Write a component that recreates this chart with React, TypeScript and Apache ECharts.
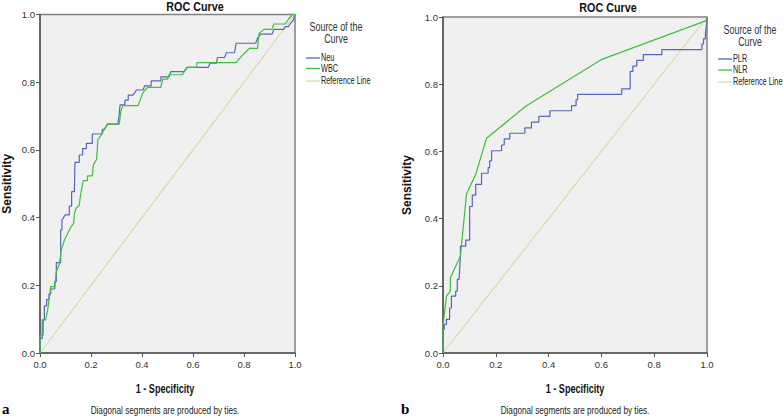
import React, { useEffect, useRef } from "react";
import * as echarts from "echarts";

// Panel a: Neu (blue) and WBC (green) ROC curves, [1 - specificity, sensitivity]
const neuPoints: number[][] = [
  [0, 0], [0, 0.043], [0.009, 0.043], [0.009, 0.098], [0.017, 0.098], [0.017, 0.139],
  [0.026, 0.139], [0.026, 0.158], [0.035, 0.158], [0.035, 0.174], [0.042, 0.174], [0.042, 0.189],
  [0.058, 0.189], [0.058, 0.211], [0.064, 0.211], [0.064, 0.267], [0.081, 0.267], [0.081, 0.364],
  [0.086, 0.364], [0.086, 0.393], [0.099, 0.408], [0.115, 0.408], [0.115, 0.434], [0.124, 0.434],
  [0.124, 0.477], [0.135, 0.477], [0.135, 0.484], [0.137, 0.484], [0.137, 0.563], [0.154, 0.563],
  [0.154, 0.585], [0.167, 0.585], [0.167, 0.604], [0.182, 0.604], [0.182, 0.619], [0.205, 0.619],
  [0.205, 0.647], [0.244, 0.647], [0.244, 0.661], [0.253, 0.661], [0.263, 0.676], [0.305, 0.676],
  [0.31, 0.7], [0.314, 0.733], [0.333, 0.733], [0.333, 0.747], [0.346, 0.747], [0.346, 0.762],
  [0.365, 0.762], [0.378, 0.777], [0.404, 0.777], [0.41, 0.789], [0.436, 0.789], [0.436, 0.804],
  [0.474, 0.804], [0.474, 0.816], [0.506, 0.816], [0.513, 0.831], [0.564, 0.831], [0.577, 0.844],
  [0.66, 0.844], [0.667, 0.856], [0.692, 0.856], [0.696, 0.873], [0.724, 0.873], [0.731, 0.887],
  [0.763, 0.887], [0.769, 0.915], [0.846, 0.915], [0.853, 0.93], [0.865, 0.942], [0.91, 0.942],
  [0.917, 0.956], [0.955, 0.956], [0.962, 0.964], [0.974, 0.964], [0.981, 0.972], [0.994, 0.984],
  [1, 1],
];

const wbcPoints: number[][] = [
  [0, 0], [0, 0.053], [0.013, 0.053], [0.013, 0.098], [0.022, 0.098], [0.03, 0.127],
  [0.038, 0.171], [0.042, 0.196], [0.058, 0.196], [0.064, 0.24], [0.077, 0.265], [0.083, 0.304],
  [0.096, 0.334], [0.109, 0.354], [0.122, 0.373], [0.132, 0.383], [0.135, 0.412], [0.141, 0.427],
  [0.154, 0.437], [0.16, 0.472], [0.17, 0.509], [0.186, 0.509], [0.186, 0.523], [0.205, 0.523],
  [0.209, 0.555], [0.222, 0.572], [0.227, 0.631], [0.231, 0.634], [0.244, 0.649], [0.253, 0.661],
  [0.265, 0.676], [0.311, 0.676], [0.317, 0.714], [0.324, 0.731], [0.385, 0.731], [0.404, 0.77],
  [0.423, 0.785], [0.474, 0.785], [0.481, 0.809], [0.5, 0.809], [0.506, 0.822], [0.558, 0.822],
  [0.564, 0.829], [0.577, 0.844], [0.615, 0.844], [0.615, 0.858], [0.769, 0.858], [0.788, 0.875],
  [0.808, 0.89], [0.821, 0.9], [0.853, 0.9], [0.859, 0.944], [0.878, 0.956], [0.91, 0.956],
  [0.917, 0.972], [0.962, 0.972], [0.974, 0.986], [0.991, 1], [1, 1],
];

// Panel b: PLR (blue) and NLR (green)
const plrPoints: number[][] = [
  [0, 0], [0, 0.07], [0.005, 0.07], [0.005, 0.085], [0.013, 0.085], [0.013, 0.1],
  [0.025, 0.1], [0.025, 0.134], [0.032, 0.134], [0.032, 0.169], [0.048, 0.169], [0.048, 0.184],
  [0.054, 0.184], [0.054, 0.219], [0.061, 0.219], [0.066, 0.289], [0.066, 0.318], [0.086, 0.318],
  [0.086, 0.336], [0.101, 0.336], [0.101, 0.436], [0.111, 0.436], [0.111, 0.47], [0.124, 0.47],
  [0.124, 0.502], [0.146, 0.502], [0.146, 0.535], [0.171, 0.535], [0.171, 0.552], [0.177, 0.552],
  [0.177, 0.572], [0.184, 0.572], [0.184, 0.602], [0.222, 0.602], [0.222, 0.619], [0.232, 0.619],
  [0.232, 0.637], [0.253, 0.637], [0.253, 0.654], [0.31, 0.654], [0.31, 0.67], [0.335, 0.67],
  [0.335, 0.687], [0.363, 0.687], [0.363, 0.704], [0.405, 0.704], [0.405, 0.721], [0.487, 0.721],
  [0.487, 0.736], [0.504, 0.736], [0.504, 0.754], [0.51, 0.754], [0.51, 0.77], [0.677, 0.77],
  [0.677, 0.786], [0.709, 0.786], [0.709, 0.838], [0.719, 0.838], [0.719, 0.854], [0.734, 0.854],
  [0.734, 0.871], [0.759, 0.871], [0.759, 0.888], [0.829, 0.888], [0.829, 0.903], [0.981, 0.903],
  [0.981, 0.92], [0.987, 0.92], [0.987, 0.935], [0.994, 0.935], [0.994, 0.953], [0.998, 0.975],
  [1, 0.975], [1, 1],
];

const nlrPoints: number[][] = [
  [0, 0], [0, 0.08], [0.013, 0.169], [0.028, 0.184], [0.028, 0.224], [0.066, 0.289],
  [0.089, 0.473], [0.124, 0.532], [0.165, 0.639], [0.316, 0.736], [0.599, 0.873], [1, 0.99],
];

const referencePoints: number[][] = [[0, 0], [1, 1]];

const panelTitle = "ROC Curve";
const xAxisTitle = "1 - Specificity";
const yAxisTitle = "Sensitivity";
const footnote = "Diagonal segments are produced by ties.";
const legendHeading = ["Source of the", "Curve"];
const legendA = ["Neu", "WBC", "Reference Line"];
const legendB = ["PLR", "NLR", "Reference Line"];
const panelLetters = ["a", "b"];

const BLUE = "#5467bd";
const GREEN = "#3fbf3f";
const REF = "#ddd7a8";
const SANS = "'Liberation Sans', Arial, sans-serif";
const SERIF = "'Liberation Serif', 'Times New Roman', serif";

const grids = [
  { left: 35, top: 14.5, width: 260, height: 338.5 },
  { left: 443, top: 17, width: 264, height: 336 },
];

// layout of the decorations of each panel
const panels = [
  {
    titleX: 195, titleY: 7, headX: 336, headY: 26, legX: 306, legY: [58, 68.5, 81],
    axisTitleX: 165, letterX: 2, legend: legendA, colors: [BLUE, GREEN, REF],
  },
  {
    titleX: 608, titleY: 8, headX: 750, headY: 29, legX: 718, legY: [59, 70, 82],
    axisTitleX: 575, letterX: 401, legend: legendB, colors: [BLUE, GREEN, REF],
  },
];

function makeAxes() {
  const xAxis: any[] = [];
  const yAxis: any[] = [];
  for (let i = 0; i < 2; i++) {
    xAxis.push({
      type: "value",
      gridIndex: i,
      min: 0,
      max: 1,
      interval: 0.2,
      axisLine: { show: true, onZero: false, lineStyle: { color: "#555", width: 1.5 } },
      axisTick: { show: true, length: 4, lineStyle: { color: "#555" } },
      axisLabel: {
        fontFamily: SANS,
        fontSize: 9.5,
        color: "#333",
        margin: 6,
        formatter: (v: number) => v.toFixed(1),
      },
      splitLine: { show: false },
    });
    yAxis.push({
      type: "value",
      gridIndex: i,
      min: 0,
      max: 1,
      interval: 0.2,
      name: yAxisTitle,
      nameLocation: "middle",
      nameGap: i === 0 ? 27 : 30,
      nameTextStyle: { fontFamily: SANS, fontWeight: "bold", fontSize: 12, color: "#111" },
      axisLine: { show: true, onZero: false, lineStyle: { color: "#555", width: 1.5 } },
      axisTick: { show: true, length: 4, lineStyle: { color: "#555" } },
      axisLabel: {
        fontFamily: SANS,
        fontSize: 9.5,
        color: "#333",
        margin: 5,
        formatter: (v: number) => v.toFixed(1),
      },
      splitLine: { show: false },
    });
  }
  return { xAxis, yAxis };
}

function lineSeries(name: string, data: number[][], color: string, idx: number, width = 1.2) {
  return {
    type: "line",
    name,
    xAxisIndex: idx,
    yAxisIndex: idx,
    data,
    symbol: "none",
    showSymbol: false,
    lineStyle: { color, width },
    itemStyle: { color },
    z: 3,
  };
}

function narrowText(text: string, x: number, y: number, font: string, scaleX: number, align: string, fill = "#222") {
  return {
    type: "text",
    x,
    y,
    scaleX,
    silent: true,
    style: { text, font, fill, align, verticalAlign: "middle" },
  };
}

function makeGraphics() {
  const g: any[] = [];
  panels.forEach((p) => {
    g.push(narrowText(panelTitle, p.titleX, p.titleY, `bold 13px ${SANS}`, 0.83, "center", "#111"));
    g.push(narrowText(legendHeading[0], p.headX, p.headY, `12px ${SANS}`, 0.74, "center", "#333"));
    g.push(narrowText(legendHeading[1], p.headX, p.headY + 12, `12px ${SANS}`, 0.74, "center", "#333"));
    p.legend.forEach((name, k) => {
      g.push({
        type: "line",
        silent: true,
        shape: { x1: p.legX, y1: p.legY[k], x2: p.legX + 14, y2: p.legY[k] },
        style: { stroke: p.colors[k], lineWidth: 1.3 },
      });
      g.push(narrowText(name, p.legX + 15, p.legY[k], `10px ${SANS}`, 0.73, "left", "#222"));
    });
    g.push(narrowText(xAxisTitle, p.axisTitleX, 388, `bold 13px ${SANS}`, 0.7, "center", "#111"));
    g.push(narrowText(footnote, p.axisTitleX, 410, `10.5px ${SANS}`, 0.78, "center", "#222"));
  });
  panelLetters.forEach((l, i) => {
    g.push(narrowText(l, panels[i].letterX, 409, `bold 15px ${SERIF}`, 1, "left", "#000"));
  });
  return g;
}

export default function App() {
  const ref = useRef<HTMLDivElement>(null);
  useEffect(() => {
    if (!ref.current) return;
    const chart = echarts.init(ref.current, null, { renderer: "svg" });
    const { xAxis, yAxis } = makeAxes();
    chart.setOption({
      animation: false,
      backgroundColor: "#ffffff",
      grid: grids.map((g) => ({
        ...g,
        show: true,
        backgroundColor: "#f0f0f0",
        borderColor: "#808080",
        borderWidth: 1.5,
        containLabel: false,
      })),
      xAxis,
      yAxis,
      series: [
        lineSeries("Reference Line", referencePoints, REF, 0, 1.2),
        lineSeries("Neu", neuPoints, BLUE, 0),
        lineSeries("WBC", wbcPoints, GREEN, 0),
        lineSeries("Reference Line", referencePoints, REF, 1, 1.2),
        lineSeries("PLR", plrPoints, BLUE, 1),
        lineSeries("NLR", nlrPoints, GREEN, 1),
      ],
      graphic: makeGraphics(),
    });
    return () => chart.dispose();
  }, []);
  return <div ref={ref} style={{ width: 784, height: 418, position: "absolute", left: 0, top: 0 }} />;
}
